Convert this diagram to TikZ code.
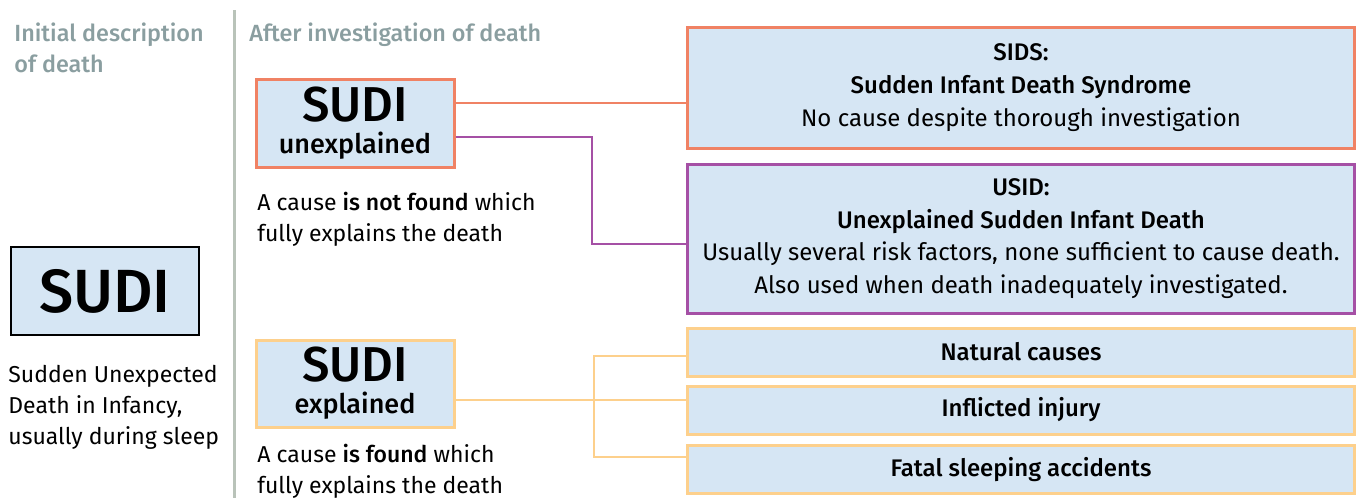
\documentclass[tikz,border=0pt]{standalone}
\usepackage{fontspec}
\setmainfont{Fira Sans}[BoldFont={Fira Sans Medium}]
\definecolor{headgray}{RGB}{138,158,160}
\definecolor{rulegray}{RGB}{185,195,185}
\definecolor{boxblue}{RGB}{214,230,244}
\definecolor{sidsorange}{RGB}{240,130,100}
\definecolor{usidpurple}{RGB}{165,80,165}
\definecolor{explorange}{RGB}{253,208,140}

\begin{document}
\begin{tikzpicture}[x=0.5pt,y=-0.5pt,
  box/.style={draw,fill=boxblue,line width=1.5pt,inner sep=0pt,align=center},
  head/.style={anchor=base west,inner sep=0pt,align=left,text=headgray,
    font=\fontsize{11.7}{15.5}\selectfont\bfseries},
  note/.style={anchor=base west,inner sep=0pt,align=left,
    font=\fontsize{11.5}{15.5}\selectfont},
  rbox/.style={box,minimum width=333.5pt,font=\fontsize{12}{16.3}\selectfont}]
\useasboundingbox (0,0) rectangle (1357,498);

\node[head] (inithead) at (14,72) {Initial description\\of death};
\node[head] (afterhead) at (249,41) {After investigation of death};
\draw[rulegray,line width=1.5pt] (234,10) -- (234,498);

\node[box,line width=1.2pt,minimum width=94pt,minimum height=44pt] (sudi) at (105,291)
  {\fontsize{30.5}{30}\selectfont\bfseries SUDI};
\node[note] (sudinote) at (8,444) {Sudden Unexpected\\Death in Infancy,\\usually during sleep};

\node[box,draw=sidsorange,minimum width=99pt,minimum height=44pt] (unexpl) at (355,123)
  {\fontsize{24.5}{22}\selectfont\bfseries SUDI\\[4pt]\fontsize{13.5}{14}\selectfont\bfseries unexplained};
\node[note] (unexplnote) at (257,241) {A cause \textbf{is not found} which\\fully explains the death};

\node[box,draw=explorange,minimum width=99pt,minimum height=43.5pt] (expl) at (355,383.5)
  {\fontsize{24.5}{22}\selectfont\bfseries SUDI\\[4pt]\fontsize{13.5}{14}\selectfont\bfseries explained};
\node[note] (explnote) at (257,493) {A cause \textbf{is found} which\\fully explains the death};

\node[rbox,draw=sidsorange,minimum height=60.5pt] (sids) at (1021,87.5)
  {\textbf{SIDS:}\\\textbf{Sudden Infant Death Syndrome}\\No cause despite thorough investigation};
\node[rbox,draw=usidpurple,minimum height=74.5pt] (usid) at (1021,238.5)
  {\textbf{USID:}\\\textbf{Unexplained Sudden Infant Death}\\Usually several risk factors, none sufficient to cause death.\\Also used when death inadequately investigated.};
\node[rbox,draw=explorange,minimum height=24pt] (natural) at (1021,352) {\textbf{Natural causes}};
\node[rbox,draw=explorange,minimum height=24pt] (inflicted) at (1021,410) {\textbf{Inflicted injury}};
\node[rbox,draw=explorange,minimum height=24pt] (fatal) at (1021,469.5) {\textbf{Fatal sleeping accidents}};

\coordinate (a1) at ([yshift=10pt]unexpl.east);
\coordinate (a2) at ([yshift=-7pt]unexpl.east);
\coordinate (a3) at ([yshift=-2.75pt]usid.west);
\coordinate (abend) at (592,0);
\coordinate (b1) at ([yshift=-8.25pt]expl.east);
\coordinate (bfork) at (594,400);
\draw[sidsorange,line width=1pt] (a1) -- (a1 -| sids.west);
\draw[usidpurple,line width=1pt] (a2) -- (a2 -| abend) |- (a3);
\draw[explorange,line width=1pt] (b1) -- (b1 -| inflicted.west);
\draw[explorange,line width=1pt] ([yshift=-2pt]natural.west) -| (bfork) |- ([yshift=6.25pt]fatal.west);
\end{tikzpicture}
\end{document}
